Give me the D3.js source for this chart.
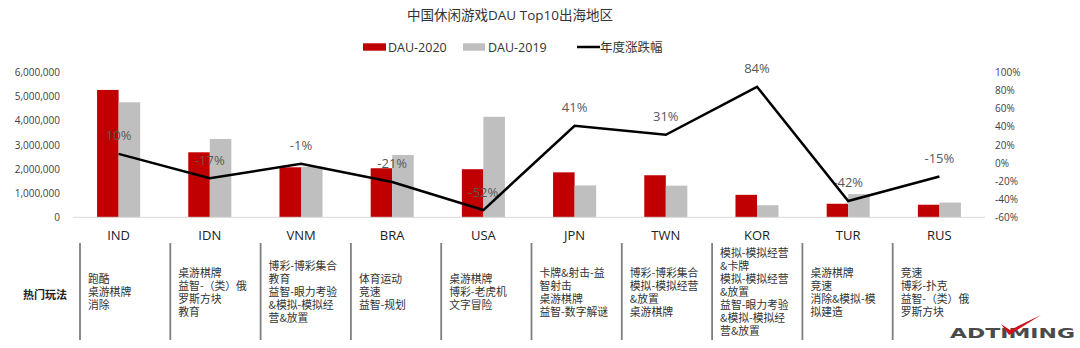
<!DOCTYPE html>
<html><head><meta charset="utf-8">
<script src="https://cdn.jsdelivr.net/npm/d3@7"></script>
<style>
html,body{margin:0;padding:0;background:#fff;}
svg{display:block;font-family:"Open Sans","Noto Sans CJK SC",sans-serif;}
</style></head>
<body>
<svg id="c" width="1080" height="348"></svg>
<script>
const countries = ["IND","IDN","VNM","BRA","USA","JPN","TWN","KOR","TUR","RUS"];
const dau2020 = [5270000, 2690000, 2070000, 2030000, 1990000, 1860000, 1740000, 930000, 560000, 520000];
const dau2019 = [4760000, 3240000, 2090000, 2580000, 4160000, 1320000, 1310000, 500000, 960000, 610000];
const growth = [10, -17, -1, -21, -52, 41, 31, 84, -42, -15];
const leftTicks = [0, 1000000, 2000000, 3000000, 4000000, 5000000, 6000000];
const rightTicks = [-60, -40, -20, 0, 20, 40, 60, 80, 100];
const genres = [
  ["跑酷","桌游棋牌","消除"],
  ["桌游棋牌","益智-（类）俄","罗斯方块","教育"],
  ["博彩-博彩集合","教育","益智-眼力考验","&模拟-模拟经","营&放置"],
  ["体育运动","竞速","益智-规划"],
  ["桌游棋牌","博彩-老虎机","文字冒险"],
  ["卡牌&射击-益","智射击","桌游棋牌","益智-数字解谜"],
  ["博彩-博彩集合","模拟-模拟经营","&放置","桌游棋牌"],
  ["模拟-模拟经营","&卡牌","模拟-模拟经营","&放置","益智-眼力考验","&模拟-模拟经","营&放置"],
  ["桌游棋牌","竞速","消除&模拟-模","拟建造"],
  ["竞速","博彩-扑克","益智-（类）俄","罗斯方块"]
];
const title = "中国休闲游戏DAU Top10出海地区";
const legendItems = ["DAU-2020","DAU-2019","年度涨跌幅"];
const rowTitle = "热门玩法";

const svg = d3.select("#c");
const RED = "#c00000", GRAY = "#bfbfbf";

const x0 = d3.scaleBand().domain(countries).range([73, 985]).padding(0);
const bw = x0.bandwidth();
const x1 = d3.scaleBand().domain(["2020","2019"]).range([bw*0.264, bw*0.736]).padding(0);
const yL = d3.scaleLinear().domain([0, 6000000]).range([217.3, 72.3]);
const yR = d3.scaleLinear().domain([-60, 100]).range([217.3, 72.3]);

// title
svg.append("text").attr("x", 510).attr("y", 20).attr("text-anchor","middle")
  .style("font-size","13.5px").attr("fill","#333").text(title);

// legend
const lg = svg.append("g").style("font-size","12.5px").attr("fill","#333");
lg.append("rect").attr("x",363).attr("y",43.3).attr("width",23).attr("height",7.4).attr("fill",RED);
lg.append("text").attr("x",388).attr("y",51.5).text(legendItems[0]);
lg.append("rect").attr("x",463).attr("y",43.3).attr("width",22).attr("height",7.4).attr("fill",GRAY);
lg.append("text").attr("x",488).attr("y",51.5).text(legendItems[1]);
lg.append("line").attr("x1",577).attr("x2",600).attr("y1",47).attr("y2",47).attr("stroke","#000").attr("stroke-width",2.5);
lg.append("text").attr("x",600).attr("y",51.5).text(legendItems[2]);

// left axis
const axL = svg.append("g").attr("transform","translate(73,0)")
  .call(d3.axisLeft(yL).tickValues(leftTicks).tickFormat(d3.format(",")).tickSize(0).tickPadding(13));
axL.select(".domain").remove();
axL.selectAll("text").style("font-size","10px").style("font-family","Open Sans").attr("fill","#404040");

// right axis
const axR = svg.append("g").attr("transform","translate(985,0)")
  .call(d3.axisRight(yR).tickValues(rightTicks).tickFormat(d => d + "%").tickSize(0).tickPadding(10));
axR.select(".domain").remove();
axR.selectAll("text").style("font-size","10px").style("font-family","Open Sans").attr("fill","#404040");

// bars
const groups = svg.append("g").selectAll("g").data(countries).join("g")
  .attr("transform", d => `translate(${x0(d)},0)`);
groups.append("rect").attr("x", x1("2020")).attr("width", x1.bandwidth())
  .attr("y", (d,i) => yL(dau2020[i])).attr("height", (d,i) => yL(0) - yL(dau2020[i])).attr("fill", RED);
groups.append("rect").attr("x", x1("2019")).attr("width", x1.bandwidth())
  .attr("y", (d,i) => yL(dau2019[i])).attr("height", (d,i) => yL(0) - yL(dau2019[i])).attr("fill", GRAY);

// baseline
svg.append("line").attr("x1",73).attr("x2",985).attr("y1",yL(0)).attr("y2",yL(0))
  .attr("stroke","#d9d9d9").attr("stroke-width",1);

// data labels
svg.append("g").selectAll("text").data(countries).join("text")
  .attr("x", d => x0(d) + bw/2).attr("y", (d,i) => yR(growth[i]) - 13.5)
  .attr("text-anchor","middle").style("font-size","13px").attr("fill","#595959")
  .text((d,i) => growth[i] + "%");

// line
const line = d3.line().x(d => x0(d) + bw/2).y((d,i) => yR(growth[i]));
svg.append("path").datum(countries).attr("d", line).attr("fill","none")
  .attr("stroke","#000").attr("stroke-width",2.5).attr("stroke-linejoin","miter");

// category labels
svg.append("g").selectAll("text").data(countries).join("text")
  .attr("x", d => x0(d) + bw/2).attr("y", 240).attr("text-anchor","middle")
  .style("font-size","13px").attr("fill","#222").text(d => d);

// table
const xt = d3.scaleLinear().domain([0, 9]).range([80, 892.7]);
svg.append("g").selectAll("line").data(countries).join("line")
  .attr("x1", (d,i) => xt(i)).attr("x2", (d,i) => xt(i)).attr("y1", 243).attr("y2", 340)
  .attr("stroke","#7f7f7f").attr("stroke-width",1.8);

svg.append("text").attr("x", 45).attr("y", 299).attr("text-anchor","middle")
  .style("font-family","Noto Sans CJK SC").style("font-weight","bold").style("font-size","11px")
  .attr("fill","#222").text(rowTitle);

const lh = 13;
countries.forEach((c, i) => {
  const lines = genres[i];
  const y0 = 292 - (lines.length - 1) * lh / 2;
  const t = svg.append("text")
    .style("font-family","Noto Sans CJK SC").style("font-size","10.8px").attr("fill","#333");
  t.selectAll("tspan").data(lines).join("tspan")
    .attr("x", xt(i) + 8).attr("y", (d,j) => y0 + j*lh + 4)
    .text(d => d);
});

// logo
svg.append("text").attr("x", 950).attr("y", 338).attr("textLength", 125).attr("lengthAdjust","spacingAndGlyphs")
  .style("font-family","DejaVu Sans").style("font-weight","bold").style("font-size","14px")
  .attr("fill","#4a4a4a").text("ADTIMING");
svg.append("path").attr("d","M1001,324 L1009,335 L1041,315 L1010,330 Z").attr("fill","#d0101a");
</script>
</body></html>
